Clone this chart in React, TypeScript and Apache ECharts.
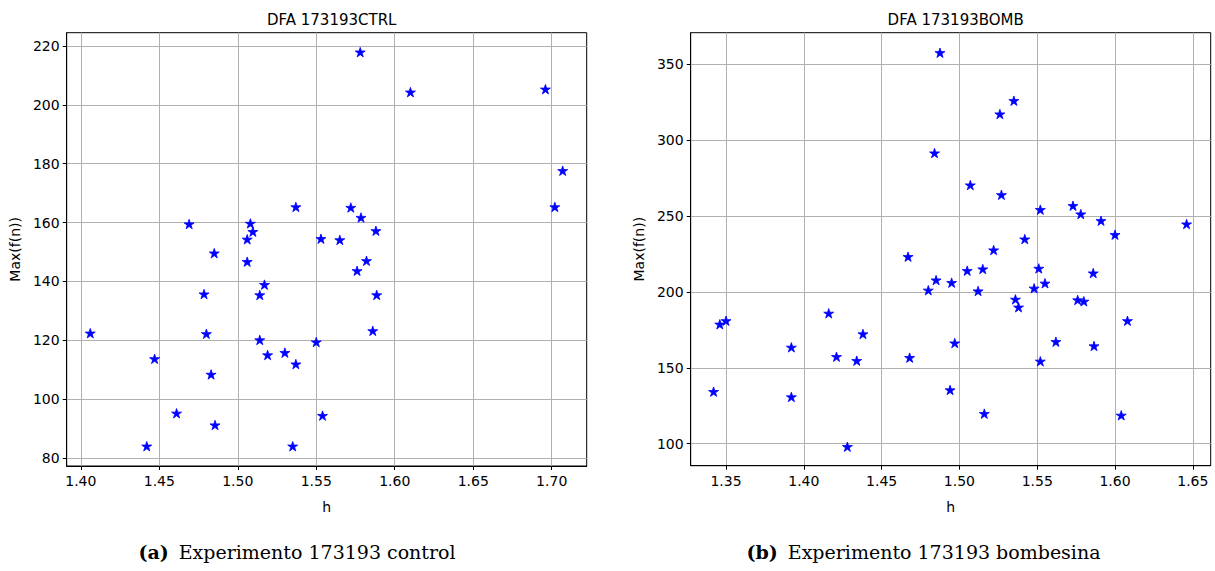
import React, { useEffect, useRef } from "react";
import * as echarts from "echarts";

const ctrlH = [1.406, 1.447, 1.442, 1.461, 1.4785, 1.485, 1.48, 1.483, 1.4855, 1.506, 1.506, 1.508, 1.5096, 1.469, 1.537, 1.553, 1.514, 1.517, 1.514, 1.519, 1.53, 1.537, 1.535, 1.55, 1.554, 1.578, 1.61, 1.696, 1.707, 1.702, 1.572, 1.5785, 1.588, 1.565, 1.582, 1.576, 1.5885, 1.586];
const ctrlMax = [122.4, 113.7, 84.0, 95.2, 135.7, 149.6, 122.2, 108.4, 91.2, 146.7, 154.3, 159.7, 156.9, 159.5, 165.3, 154.5, 135.4, 138.9, 120.1, 115.0, 115.8, 111.9, 84.0, 119.4, 94.4, 217.9, 204.3, 205.3, 177.6, 165.3, 165.1, 161.7, 157.2, 154.1, 147.0, 143.6, 135.4, 123.2];

const bombH = [1.342, 1.346, 1.35, 1.392, 1.392, 1.416, 1.421, 1.428, 1.434, 1.438, 1.467, 1.468, 1.48, 1.485, 1.4875, 1.484, 1.495, 1.497, 1.494, 1.505, 1.507, 1.512, 1.515, 1.516, 1.526, 1.527, 1.522, 1.535, 1.536, 1.538, 1.542, 1.548, 1.551, 1.552, 1.552, 1.555, 1.562, 1.573, 1.576, 1.578, 1.58, 1.586, 1.5865, 1.591, 1.6, 1.604, 1.608, 1.646];
const bombMax = [134.3, 178.7, 181.0, 163.5, 130.8, 185.9, 157.3, 98.0, 154.7, 172.3, 223.2, 156.7, 201.1, 207.8, 357.6, 291.5, 206.1, 166.3, 135.4, 214.0, 270.4, 200.6, 215.1, 119.8, 317.2, 264.0, 227.6, 326.0, 195.1, 189.9, 234.8, 202.4, 215.5, 254.2, 154.3, 205.7, 167.2, 256.8, 194.7, 251.3, 193.8, 212.4, 164.4, 246.9, 237.7, 118.7, 181.0, 244.7];

const ctrlXTicks = [1.4, 1.45, 1.5, 1.55, 1.6, 1.65, 1.7];
const ctrlYTicks = [80, 100, 120, 140, 160, 180, 200, 220];
const bombXTicks = [1.35, 1.4, 1.45, 1.5, 1.55, 1.6, 1.65];
const bombYTicks = [100, 150, 200, 250, 300, 350];

const titles = ["DFA 173193CTRL", "DFA 173193BOMB"];
const captions = [
  ["(a)", "Experimento 173193 control"],
  ["(b)", "Experimento 173193 bombesina"],
];

const STAR = "path://M50,0 L61.2,34.5 L97.6,34.5 L68.2,55.9 L79.4,90.5 L50,69.1 L20.6,90.5 L31.8,55.9 L2.4,34.5 L38.8,34.5 Z";
const FONT = "DejaVu Sans";

function xAxis(idx: number, min: number, max: number, ticks: number[]) {
  return {
    type: "value",
    gridIndex: idx,
    min,
    max,
    name: "h",
    nameLocation: "middle",
    nameGap: 34,
    nameTextStyle: { fontFamily: FONT, fontSize: 14, color: "#000" },
    axisLine: { show: true, onZero: false, lineStyle: { color: "#000", width: 1 } },
    axisTick: { show: true, inside: false, length: 4, customValues: ticks, lineStyle: { color: "#000" } },
    axisLabel: {
      show: true,
      customValues: ticks,
      margin: 8,
      fontFamily: FONT,
      fontSize: 14,
      color: "#000",
      formatter: (v: number) => v.toFixed(2),
    },
    splitLine: { show: true, lineStyle: { color: "#b0b0b0", width: 1 } },
  };
}

function yAxis(idx: number, min: number, max: number, ticks: number[]) {
  return {
    type: "value",
    gridIndex: idx,
    min,
    max,
    name: "Max(f(n))",
    nameLocation: "middle",
    nameGap: 45,
    nameTextStyle: { fontFamily: FONT, fontSize: 14, color: "#000" },
    axisLine: { show: true, onZero: false, lineStyle: { color: "#000", width: 1 } },
    axisTick: { show: true, inside: false, length: 4, customValues: ticks, lineStyle: { color: "#000" } },
    axisLabel: {
      show: true,
      customValues: ticks,
      margin: 7,
      fontFamily: FONT,
      fontSize: 14,
      color: "#000",
      formatter: (v: number) => String(Math.round(v)),
    },
    splitLine: { show: true, lineStyle: { color: "#b0b0b0", width: 1 } },
  };
}

export default function App() {
  const ref = useRef<HTMLDivElement>(null);
  useEffect(() => {
    if (!ref.current) return;
    const chart = echarts.init(ref.current, null, { renderer: "svg" });
    const grids = [
      { left: 66.7, top: 32.7, width: 520, height: 433.3 },
      { left: 690.7, top: 32.7, width: 520, height: 433 },
    ];
    const starStyle = { color: "#0000ff", opacity: 1, borderColor: "#0000ff", borderWidth: 0.8 };
    chart.setOption({
      animation: false,
      backgroundColor: "#fff",
      grid: grids.map((g) => ({ ...g, show: true, borderColor: "#000", borderWidth: 1, backgroundColor: "transparent" })),
      xAxis: [xAxis(0, 1.391, 1.7223, ctrlXTicks), xAxis(1, 1.3273, 1.6615, bombXTicks)],
      yAxis: [yAxis(0, 77.28, 224.5, ctrlYTicks), yAxis(1, 85.5, 370.8, bombYTicks)],
      title: titles.map((t, i) => ({
        text: t,
        left: grids[i].left + grids[i].width / 2,
        top: 7,
        textAlign: "center",
        textStyle: { fontFamily: FONT, fontSize: 15, fontWeight: "normal", color: "#000" },
      })),
      series: [
        {
          type: "scatter",
          xAxisIndex: 0,
          yAxisIndex: 0,
          symbol: STAR,
          symbolSize: [10, 9.5],
          itemStyle: starStyle,
          data: ctrlH.map((h, i) => [h, ctrlMax[i]]),
        },
        {
          type: "scatter",
          xAxisIndex: 1,
          yAxisIndex: 1,
          symbol: STAR,
          symbolSize: [10, 9.5],
          itemStyle: starStyle,
          data: bombH.map((h, i) => [h, bombMax[i]]),
        },
      ],
      graphic: captions.map((c, i) => ({
        type: "text",
        x: i === 0 ? 297 : 923.5,
        y: 552,
        style: {
          text: `{b|${c[0]}}{n|${c[1]}}`,
          align: "center",
          verticalAlign: "middle",
          rich: {
            b: { fontFamily: "DejaVu Serif", fontSize: 19, fontWeight: "bold", fill: "#000", padding: [0, 10, 0, 0] },
            n: { fontFamily: "DejaVu Serif", fontSize: 19, fill: "#000" },
          },
        },
      })),
    });
    return () => chart.dispose();
  }, []);
  return <div ref={ref} style={{ position: "absolute", left: 0, top: 0, width: 1215, height: 571 }} />;
}
